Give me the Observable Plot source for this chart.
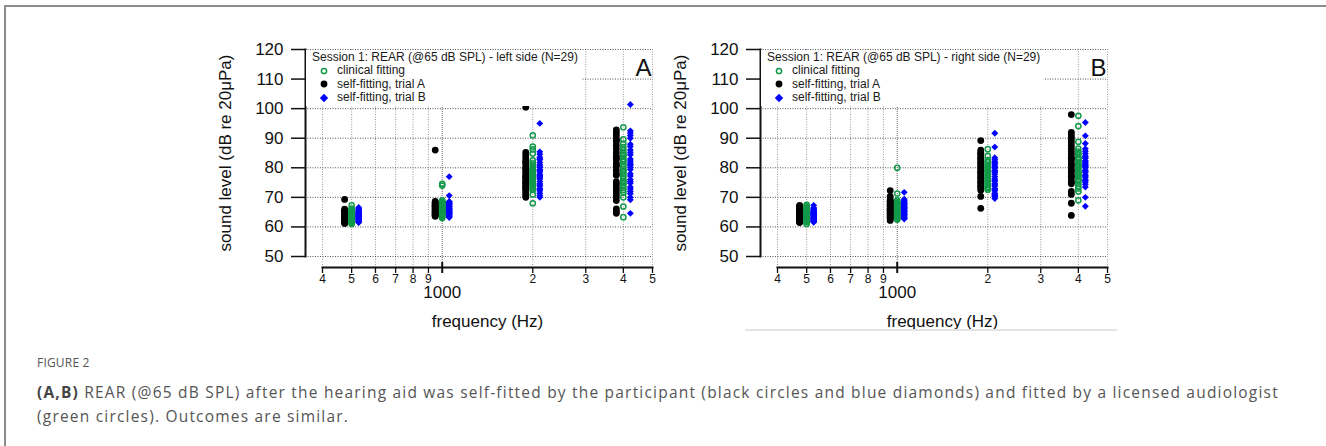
<!DOCTYPE html>
<html>
<head>
<meta charset="utf-8">
<script src="https://cdn.jsdelivr.net/npm/d3@7"></script>
<script src="https://cdn.jsdelivr.net/npm/@observablehq/plot@0.6"></script>
<style>
  html, body { margin: 0; padding: 0; background: #fff; }
  body { width: 1326px; height: 446px; overflow: hidden; position: relative; font-family: "Liberation Sans", Arial, sans-serif; }
  #card { position: absolute; left: 4px; top: 5px; right: -10px; bottom: -10px; border-top: 2px solid #8c8c8c; border-left: 2px solid #8c8c8c; }
  .panel { position: absolute; top: 30px; width: 470px; height: 305px; }
  .legend { position: absolute; left: 109px; top: 20px; height: 56px; background: #fff; color: #1a1a1a; font-size: 12px; padding-right: 4px; }
  .legend .lt { height: 14px; line-height: 14px; padding-left: 6px; white-space: nowrap; }
  .legend .row { height: 13.5px; line-height: 13.5px; position: relative; padding-left: 31px; white-space: nowrap; }
  .legend .row svg { position: absolute; left: 13px; top: 1.75px; }
  #underline { position: absolute; left: 745px; top: 329px; width: 372px; height: 2px; background: #e4e4e4; }
  #caption { position: absolute; left: 37px; top: 355px; width: 1285px; color: #555; font-family: "Open Sans", "Noto Sans", sans-serif; }
  #caption .fig { font-size: 12px; line-height: 16px; letter-spacing: 0.2px; margin-bottom: 10px; }
  #caption .txt { font-size: 15.5px; line-height: 23.5px; letter-spacing: 1.2px; white-space: nowrap; }
  #caption b { font-weight: 700; color: #444; }
</style>
</head>
<body>
<div id="card"></div>
<div id="panelA" class="panel" style="left:197px"></div>
<div id="panelB" class="panel" style="left:652px"></div>
<div id="underline"></div>
<div id="caption">
  <div class="fig">FIGURE 2</div>
  <div class="txt"><b>(A,B)</b> REAR (@65 dB SPL) after the hearing aid was self-fitted by the participant (black circles and blue diamonds) and fitted by a licensed audiologist<br>(green circles). Outcomes are similar.</div>
</div>
<script>
// ---------- data ----------
const frequencies = [500, 1000, 2000, 4000];
const seriesLabels = ["clinical fitting", "self-fitting, trial A", "self-fitting, trial B"];
const panelLetters = ["A", "B"];
const panelTitles = [
  "Session 1: REAR (@65 dB SPL) - left side (N=29)",
  "Session 1: REAR (@65 dB SPL) - right side (N=29)"
];
const yTicks = [50, 60, 70, 80, 90, 100, 110, 120];
const xMinorTicks = [400, 500, 600, 700, 800, 900, 2000, 3000, 4000, 5000];
const xMinorLabels = ["4", "5", "6", "7", "8", "9", "2", "3", "4", "5"];
const xMajorTicks = [1000];
const xMajorLabels = ["1000"];
const yTitle = "sound level (dB re 20\u03bcPa)";
const xTitle = "frequency (Hz)";

// left side (panel A): one array of 29 levels per frequency
const leftClinical = [
  [67.3,66.2,65.8,65.5,65.2,64.9,64.6,64.4,64.2,64.0,63.8,63.6,63.4,63.2,63.0,62.8,62.6,62.4,62.2,62.0,61.8,61.6,61.3,61.0,63.9,64.7,62.9,65.0,63.5],
  [74.6,74.0,69.0,68.6,68.2,67.9,67.6,67.3,67.0,66.7,66.4,66.1,65.8,65.5,65.2,64.9,64.6,64.3,64.0,63.7,63.4,63.0,66.9,65.6,64.8,67.8,66.2,65.0,68.4],
  [91.0,87.2,86.2,84.8,82.5,81.5,80.8,80.2,79.6,79.0,78.5,78.0,77.5,77.0,76.5,76.0,75.5,75.0,74.5,74.0,73.5,73.0,72.5,71.0,68.0,79.3,77.8,76.2,74.8],
  [93.7,89.6,88.2,87.0,86.0,85.0,84.0,83.0,82.0,81.2,80.4,79.6,78.8,78.0,77.2,76.4,75.6,74.8,74.0,73.2,72.4,71.6,70.0,66.9,63.3,84.5,82.5,79.0,75.2]
];
const leftTrialA = [
  [69.3,66.0,65.6,65.3,65.0,64.7,64.4,64.2,64.0,63.8,63.6,63.4,63.2,63.0,62.8,62.6,62.4,62.2,62.0,61.8,61.6,61.4,61.2,63.1,64.5,62.7,65.2,63.7,62.1],
  [86.0,68.6,68.2,67.9,67.6,67.3,67.0,66.7,66.4,66.1,65.8,65.5,65.2,64.9,64.6,64.3,64.0,63.8,63.6,66.9,65.6,64.8,67.8,66.2,65.0,68.4,64.2,63.9,67.1],
  [100.5,85.2,84.2,83.3,82.5,81.7,81.0,80.2,79.5,78.8,78.1,77.4,76.7,76.0,75.4,74.8,74.2,73.6,73.0,72.4,71.8,71.2,70.6,70.0,79.8,77.0,75.0,73.3,82.0],
  [92.8,91.8,90.8,89.8,88.8,87.6,86.4,85.2,84.0,82.8,81.6,80.4,79.2,78.0,74.5,73.6,72.7,71.8,70.9,70.0,68.9,66.1,64.6,83.4,80.9,77.5,75.3,65.3,89.3]
];
const leftTrialB = [
  [66.6,66.2,65.8,65.5,65.2,64.9,64.6,64.4,64.2,64.0,63.8,63.6,63.4,63.2,63.0,62.8,62.6,62.4,62.2,62.0,61.8,61.6,61.5,63.9,64.7,62.9,65.0,63.5,65.6],
  [77.0,70.6,68.6,68.2,67.9,67.6,67.3,67.0,66.7,66.4,66.1,65.8,65.5,65.2,64.9,64.6,64.3,64.0,63.7,63.4,63.2,66.9,65.6,64.8,67.8,66.2,65.0,68.4,64.4],
  [103.6,95.0,85.4,84.6,83.6,82.7,81.8,81.0,80.2,79.4,78.6,77.8,77.0,76.2,75.4,74.6,73.8,73.0,72.2,71.4,70.6,70.0,79.0,76.6,74.2,72.6,80.6,83.0,77.4],
  [101.4,92.5,91.8,90.9,90.0,88.0,87.2,85.2,84.4,83.0,82.3,81.6,80.9,80.2,79.4,78.0,76.0,75.4,74.8,73.5,72.8,72.0,71.2,70.0,69.2,64.6,81.0,77.2,86.0]
];
// right side (panel B)
const rightClinical = [
  [67.5,67.0,66.6,66.2,65.8,65.5,65.2,64.9,64.6,64.3,64.0,63.7,63.4,63.1,62.8,62.5,62.2,61.9,61.6,61.0,66.4,65.0,63.9,62.6,64.8,63.3,66.0,62.0,65.6],
  [80.0,71.3,69.0,68.6,68.2,67.8,67.4,67.0,66.6,66.2,65.8,65.4,65.0,64.6,64.2,63.8,63.4,63.0,62.7,62.5,68.0,66.8,65.2,64.0,66.4,63.2,67.6,65.6,64.4],
  [86.3,84.0,82.6,81.8,81.0,80.3,79.6,79.0,78.4,77.8,77.2,76.6,76.0,75.4,74.8,74.2,73.6,73.0,72.6,80.8,78.7,77.5,75.7,74.5,79.3,76.3,82.2,73.3,80.0],
  [97.6,94.1,88.8,86.5,85.5,84.5,83.5,82.6,81.8,81.0,80.2,79.4,78.6,77.8,77.0,76.2,75.4,74.6,73.8,73.0,72.0,69.0,85.0,83.0,80.6,78.2,75.8,81.4,77.4]
];
const rightTrialA = [
  [67.3,66.9,66.5,66.1,65.7,65.3,65.0,64.7,64.4,64.1,63.8,63.5,63.2,62.9,62.6,62.3,62.0,61.7,61.5,66.7,65.5,64.2,63.0,62.1,64.9,63.6,66.3,61.9,65.1],
  [72.3,70.3,69.2,68.8,68.4,68.0,67.6,67.2,66.8,66.4,66.0,65.6,65.2,64.8,64.4,64.0,63.6,63.2,62.8,62.2,67.0,65.4,63.8,66.2,64.6,68.6,63.0,65.8,67.4],
  [89.2,86.0,85.2,84.4,83.6,82.8,82.0,81.2,80.4,79.6,78.8,78.0,77.2,76.4,75.6,74.8,74.0,73.2,72.4,70.3,66.3,84.8,83.2,81.6,80.0,78.4,76.8,75.2,73.6],
  [98.0,92.0,91.2,90.4,89.6,88.6,87.6,86.6,85.6,84.6,83.6,82.6,81.6,80.6,79.6,78.6,77.6,76.6,75.6,74.6,72.0,71.0,68.0,63.9,83.1,81.1,79.1,77.1,75.1]
];
const rightTrialB = [
  [67.3,66.5,66.0,65.6,65.2,64.9,64.6,64.3,64.0,63.7,63.4,63.1,62.8,62.5,62.2,61.9,61.6,66.2,65.0,63.9,62.6,64.8,63.3,62.0,65.4,64.1,63.0,61.8,64.5],
  [71.7,69.4,69.0,68.6,68.2,67.8,67.4,67.0,66.6,66.2,65.8,65.4,65.0,64.6,64.2,63.8,63.4,63.0,62.7,68.0,66.8,65.2,64.0,66.4,63.2,67.6,65.6,64.4,62.9],
  [91.7,87.0,83.4,82.7,82.0,81.3,80.6,79.9,79.2,78.5,77.8,77.0,76.2,75.4,74.6,73.8,73.0,72.2,71.4,70.6,69.6,81.6,80.2,78.8,75.8,74.2,72.6,71.0,70.2],
  [95.3,90.8,88.2,85.6,84.8,84.0,83.2,82.4,81.6,80.8,80.0,79.2,78.4,77.6,76.8,76.0,75.2,74.4,73.5,70.0,67.0,83.6,82.0,80.4,78.8,77.2,75.6,86.4,81.2]
];

// ---------- styles ----------
const GREEN = "#12994a";
const BLUE = "#0000ff";
const FONT = "'Liberation Sans', Arial, Helvetica, sans-serif";

function toRows(arrays) {
  const rows = [];
  arrays.forEach((vals, i) => vals.forEach(v => rows.push({freq: frequencies[i], level: v})));
  return rows;
}

function makePanel(idx, clinical, trialA, trialB) {
  const minorLabelRows = xMinorTicks.map((t, i) => ({tick: t, label: xMinorLabels[i]}));
  const majorLabelRows = xMajorTicks.map((t, i) => ({tick: t, label: xMajorLabels[i]}));
  return Plot.plot({
    width: 470, height: 305,
    marginLeft: 108, marginRight: 15, marginTop: 19, marginBottom: 68,
    style: {background: "transparent", overflow: "visible", fontFamily: FONT, color: "#111"},
    x: {type: "log", domain: [400, 5000], insetLeft: 17},
    y: {domain: [50, 120], insetBottom: 11},
    marks: [
      Plot.gridX(xMinorTicks, {stroke: "#9a9a9a", strokeOpacity: 1, strokeDasharray: "1,1.5", strokeWidth: 1}),
      Plot.gridX(xMajorTicks, {stroke: "#666", strokeOpacity: 1, strokeDasharray: "1,1", strokeWidth: 1}),
      Plot.gridY(yTicks, {stroke: "#555", strokeOpacity: 1, strokeDasharray: "1,1.5", strokeWidth: 1}),
      Plot.axisY(yTicks, {anchor: "left", tickSize: 14, tickPadding: 8, fontSize: 17, label: null, strokeWidth: 1.5}),
      Plot.frame({anchor: "left", insetBottom: 11, strokeWidth: 2, stroke: "#111"}),
      Plot.frame({anchor: "bottom", insetLeft: 17, strokeWidth: 2, stroke: "#111"}),
      // x ticks (labels drawn separately as text marks)
      Plot.axisX(xMinorTicks, {anchor: "bottom", tickSize: 6, label: null, strokeWidth: 1.3, tickFormat: () => ""}),
      Plot.axisX(xMajorTicks, {anchor: "bottom", tickSize: 6, label: null, strokeWidth: 2, tickFormat: () => ""}),
      Plot.axisX(xMajorTicks, {anchor: "bottom", tickSize: 5, dy: -5, label: null, strokeWidth: 2, tickFormat: () => ""}),
      Plot.text(minorLabelRows, {x: "tick", text: "label", frameAnchor: "bottom", textAnchor: "middle", lineAnchor: "top", dy: 7, fontSize: 12, fill: "#111"}),
      Plot.text(majorLabelRows, {x: "tick", text: "label", frameAnchor: "bottom", textAnchor: "middle", lineAnchor: "top", dy: 18, fontSize: 17, fill: "#111"}),
      Plot.text([yTitle], {frameAnchor: "left", textAnchor: "middle", lineAnchor: "middle", rotate: -90, dx: -80, dy: -5.5, fontSize: 17, fill: "#111"}),
      Plot.text([xTitle], {frameAnchor: "bottom", textAnchor: "middle", lineAnchor: "middle", dx: 8.5, dy: 54, fontSize: 17, fill: "#111"}),
      Plot.text([panelLetters[idx]], {frameAnchor: "top-right", textAnchor: "end", lineAnchor: "top", dx: -1, dy: 9, fontSize: 24, fill: "#111"}),
      Plot.dot(toRows(trialA), {x: "freq", y: "level", r: 3.4, fill: "#000", dx: -7}),
      Plot.dot(toRows(clinical), {x: "freq", y: "level", r: 2.6, stroke: GREEN, strokeWidth: 1.5, fill: "none"}),
      Plot.dot(toRows(trialB), {x: "freq", y: "level", symbol: "diamond2", r: 3.1, fill: BLUE, dx: 7})
    ]
  });
}

function makeLegend(idx) {
  const lg = document.createElement("div");
  lg.className = "legend";
  const t = document.createElement("div");
  t.className = "lt";
  t.textContent = panelTitles[idx];
  lg.appendChild(t);
  const symbols = [
    `<circle cx="5" cy="5" r="2.6" fill="none" stroke="${GREEN}" stroke-width="1.5"/>`,
    `<circle cx="5" cy="5" r="3.4" fill="#000"/>`,
    `<path d="M5,0.8L9.2,5L5,9.2L0.8,5Z" fill="${BLUE}"/>`
  ];
  seriesLabels.forEach((s, i) => {
    const row = document.createElement("div");
    row.className = "row";
    row.innerHTML = `<svg width="10" height="10" viewBox="0 0 10 10">${symbols[i]}</svg>`;
    const span = document.createElement("span");
    span.textContent = s;
    row.appendChild(span);
    lg.appendChild(row);
  });
  return lg;
}

const pa = document.getElementById("panelA");
pa.appendChild(makePanel(0, leftClinical, leftTrialA, leftTrialB));
pa.appendChild(makeLegend(0));
const pb = document.getElementById("panelB");
pb.appendChild(makePanel(1, rightClinical, rightTrialA, rightTrialB));
pb.appendChild(makeLegend(1));
</script>
</body>
</html>
